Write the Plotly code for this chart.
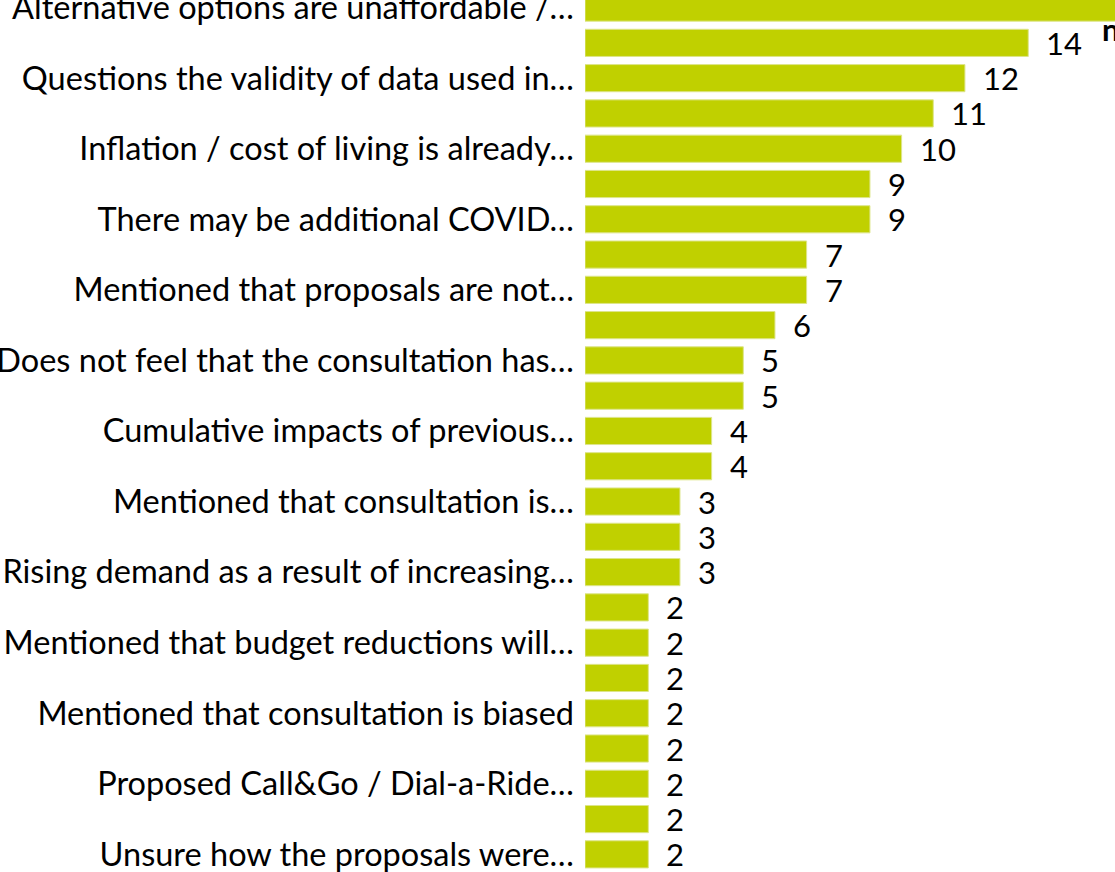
import plotly.graph_objects as go

labels = [
    "Alternative options are unaffordable /…", "",
    "Questions the validity of data used in…", "",
    "Inflation / cost of living is already…", "",
    "There may be additional COVID…", "",
    "Mentioned that proposals are not…", "",
    "Does not feel that the consultation has…", "",
    "Cumulative impacts of previous…", "",
    "Mentioned that consultation is…", "",
    "Rising demand as a result of increasing…", "",
    "Mentioned that budget reductions will…", "",
    "Mentioned that consultation is biased", "",
    "Proposed Call&Go / Dial-a-Ride…", "",
    "Unsure how the proposals were…",
]
values = [18, 14, 12, 11, 10, 9, 9, 7, 7, 6, 5, 5, 4, 4, 3, 3, 3, 2, 2, 2, 2, 2, 2, 2, 2]
positions = list(range(len(values)))

FONT = "Lato"
BAR = "#C0D000"

fig = go.Figure()
fig.add_trace(go.Bar(
    x=values, y=positions, orientation="h",
    marker=dict(color=BAR, line=dict(color="#dde58a", width=1)),
    width=0.77,
    hoverinfo="skip",
))

for v, p in zip(values, positions):
    fig.add_annotation(x=v, y=p, xref="x", yref="y", text=str(v),
                       showarrow=False, xanchor="left", yanchor="middle",
                       xshift=16, font=dict(family=FONT, size=31, color="#000000"))

fig.add_annotation(x=0.972, y=0.967, xref="paper", yref="paper", text="<b>n</b>",
                   showarrow=False, xanchor="left", yanchor="middle",
                   font=dict(family=FONT, size=31, color="#000000"))

fig.update_layout(
    width=1115, height=872,
    margin=dict(l=585, r=0, t=0, b=0, autoexpand=False),
    paper_bgcolor="white", plot_bgcolor="white",
    showlegend=False,
    font=dict(family=FONT, size=32.5, color="#000000"),
    xaxis=dict(range=[0, 16.74], visible=False, fixedrange=True, automargin=False),
    yaxis=dict(range=[24.5, -0.215], tickvals=positions, ticktext=labels,
               showgrid=False, zeroline=False, showline=False, ticks="",
               automargin=False, ticklabelstandoff=10, ticklabeloverflow="allow",
               fixedrange=True,
               tickfont=dict(family=FONT, size=32.5, color="#000000")),
)

fig.write_html("out.html", config={"displayModeBar": False},
               post_script="document.body.style.margin='0';document.body.style.overflow='hidden';")
